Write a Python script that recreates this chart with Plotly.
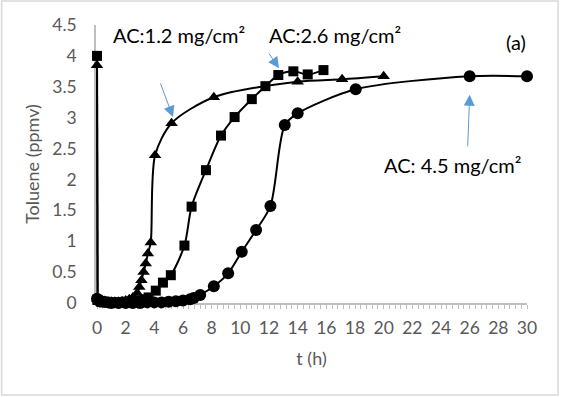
import plotly.graph_objects as go

# AC: 1.2 mg/cm2 (triangles)
t_12 = [0, 0.04, 0.3, 0.5, 0.75, 1.0, 1.25, 1.5, 1.75, 2.0, 2.25, 2.5, 2.8, 2.95, 3.1, 3.25, 3.4, 3.55, 3.75, 4.05, 5.2, 8.15, 14.0, 17.1, 20.0]
y_12 = [3.85, 0.06, 0.03, 0.02, 0.02, 0.02, 0.02, 0.02, 0.03, 0.04, 0.06, 0.09, 0.16, 0.26, 0.37, 0.5, 0.64, 0.8, 0.98, 2.39, 2.91, 3.33, 3.58, 3.62, 3.67]

# AC: 2.6 mg/cm2 (squares)
t_26 = [0, 0.04, 0.3, 0.5, 0.8, 1.0, 1.3, 1.6, 2.0, 2.3, 2.6, 3.0, 3.3, 3.6, 4.1, 4.6, 5.15, 6.1, 6.6, 7.6, 8.65, 9.6, 10.8, 11.75, 12.65, 13.7, 14.7, 15.8]
y_26 = [4.0, 0.05, 0.02, 0.01, 0.01, 0.01, 0.01, 0.01, 0.02, 0.02, 0.03, 0.04, 0.06, 0.09, 0.2, 0.33, 0.45, 0.93, 1.56, 2.15, 2.71, 3.01, 3.30, 3.51, 3.69, 3.75, 3.70, 3.77]

# AC: 4.5 mg/cm2 (circles)
t_45 = [0, 0.2, 0.5, 0.8, 1.0, 1.5, 2.0, 2.5, 3.0, 3.5, 4.0, 4.5, 5.0, 5.5, 6.0, 6.5, 6.75, 7.2, 8.15, 9.15, 10.1, 11.1, 12.1, 13.1, 14.0, 18.05, 26.0, 30.0]
y_45 = [0.07, 0.03, 0.02, 0.01, 0.0, 0.0, 0.0, 0.0, 0.0, 0.01, 0.01, 0.01, 0.02, 0.03, 0.04, 0.06, 0.08, 0.13, 0.27, 0.48, 0.83, 1.18, 1.57, 2.88, 3.07, 3.46, 3.67, 3.67]

x_ticks = list(range(0, 31, 2))
y_ticks = [0, 0.5, 1, 1.5, 2, 2.5, 3, 3.5, 4, 4.5]
y_ticklabels = ["0", "0.5", "1", "1.5", "2", "2.5", "3", "3.5", "4", "4.5"]

FONT = "Lato, Carlito, Calibri, sans-serif"
GRAY = "#595959"
BLUE = "#5B9BD5"

fig = go.Figure()
series = [
    (t_12, y_12, "triangle-up", 11, "AC:1.2 mg/cm²"),
    (t_26, y_26, "square", 10, "AC:2.6 mg/cm²"),
    (t_45, y_45, "circle", 12, "AC: 4.5 mg/cm²"),
]
for tx, ty, sym, size, name in series:
    # initial drop (straight segment)
    fig.add_trace(go.Scatter(
        x=tx[:2], y=ty[:2], mode="lines+markers", name=name,
        line=dict(color="black", width=2),
        marker=dict(symbol=sym, size=size, color="black"),
        cliponaxis=False, showlegend=False,
    ))
    # smoothed breakthrough curve
    fig.add_trace(go.Scatter(
        x=tx[1:], y=ty[1:], mode="lines+markers", name=name,
        line=dict(color="black", width=2, shape="spline", smoothing=0.8),
        marker=dict(symbol=sym, size=size, color="black"),
        cliponaxis=False, showlegend=False,
    ))

annots = [
    dict(x=5.72, y=4.34, text="AC:1.2 mg/cm²"),
    dict(x=16.6, y=4.34, text="AC:2.6 mg/cm²"),
    dict(x=24.8, y=2.23, text="AC: 4.5 mg/cm²"),
    dict(x=29.2, y=4.22, text="(a)"),
]
for a in annots:
    fig.add_annotation(x=a["x"], y=a["y"], text=a["text"], showarrow=False,
                       xref="x", yref="y", font=dict(family=FONT, size=20, color="black"))

arrows = [
    dict(x=5.3, y=3.01, ax=-13, ay=-35),
    dict(x=12.7, y=3.80, ax=-11, ay=-16),
    dict(x=26.0, y=3.37, ax=-2, ay=53),
]
for a in arrows:
    fig.add_annotation(x=a["x"], y=a["y"], ax=a["ax"], ay=a["ay"], text="",
                       showarrow=True, arrowhead=2, arrowsize=2.2, arrowwidth=1,
                       arrowcolor=BLUE, xref="x", yref="y")

fig.add_shape(type="rect", xref="paper", yref="paper",
              x0=-0.219, x1=1.072, y0=-0.331, y1=1.086,
              line=dict(color="#D9D9D9", width=1.5))

fig.update_layout(
    width=561, height=397,
    margin=dict(l=96, r=34, t=25, b=94),
    paper_bgcolor="white", plot_bgcolor="white",
    font=dict(family=FONT, color=GRAY),
    xaxis=dict(
        range=[-0.07, 30], tickvals=x_ticks, ticktext=[str(v) for v in x_ticks],
        showgrid=False, zeroline=False, showline=True, linecolor="#BFBFBF", linewidth=1.5,
        ticks="", tickfont=dict(size=17.5, color=GRAY), automargin=False, layer="below traces",
        ticklabelstandoff=8,
        minor=dict(ticks="outside", dtick=0.4, tick0=0, ticklen=4, tickcolor="#BFBFBF", showgrid=False),
        title=dict(text="t (h)", font=dict(size=18, color=GRAY), standoff=16),
    ),
    yaxis=dict(
        range=[0, 4.5], tickvals=y_ticks, ticktext=y_ticklabels,
        showgrid=False, zeroline=False, showline=True, linecolor="#BFBFBF", linewidth=1.5,
        ticks="", tickfont=dict(size=17.5, color=GRAY), ticklabelstandoff=14,
        automargin=False, layer="below traces",
        title=dict(text="Toluene (ppmv)", font=dict(size=18, color=GRAY), standoff=8),
    ),
)

fig.write_html(
    "out.html",
    config={"displayModeBar": False},
    post_script="document.body.style.margin='0';document.body.style.overflow='hidden';",
)
